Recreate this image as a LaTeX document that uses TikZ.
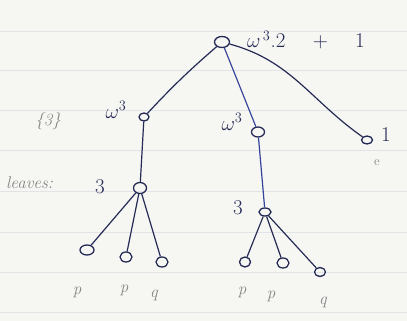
\documentclass[tikz,border=0pt]{standalone}
\usepackage{xcolor}
\usepackage{tikz}
\usetikzlibrary{shapes.geometric}

\definecolor{paper}{HTML}{F6F6F3}
\definecolor{rule}{HTML}{E2E3E6}
\definecolor{ink}{HTML}{262B55}
\definecolor{blueink}{HTML}{34439A}
\definecolor{pencil}{HTML}{858585}

\begin{document}
\begin{tikzpicture}[
  x=1pt,y=-1pt,
  vert/.style={draw=ink,line width=1.3pt,ellipse,inner sep=0pt,
    minimum width=10pt,minimum height=8pt},
  edge/.style={draw=ink,line width=1.2pt},
  bedge/.style={draw=blueink,line width=1.2pt},
  lbl/.style={text=ink,font=\fontsize{21}{23}\selectfont,inner sep=0pt},
  faint/.style={text=pencil,font=\fontsize{17}{19}\selectfont\itshape,inner sep=0pt}
]
% paper and its rules
\fill[paper] (0,0) rectangle (407,321);
\useasboundingbox (0,0) rectangle (407,321);
\foreach \y in {31,70,110,150,191,232,272,312}
  \draw[rule,line width=0.8pt] (0,\y) -- (407,\y);

% vertices
\node[vert,minimum width=15pt,minimum height=11pt] (root) at (222,42) {};
\node[vert] (left) at (144,117) {};
\node[vert,minimum width=13pt,minimum height=10pt] (mid) at (258,132) {};
\node[vert,minimum width=11pt] (right) at (367,140) {};
\node[vert,minimum width=13pt,minimum height=11pt] (lsub) at (140,188) {};
\node[vert,minimum width=12pt,minimum height=8pt] (msub) at (265,212) {};
\node[vert,minimum width=14pt,minimum height=10pt] (l1) at (87,250) {};
\node[vert,minimum width=12pt,minimum height=10pt] (l2) at (126,257) {};
\node[vert,minimum width=12pt,minimum height=10pt] (l3) at (162,262) {};
\node[vert,minimum width=11pt,minimum height=10pt] (m1) at (245,262) {};
\node[vert,minimum width=12pt,minimum height=10pt] (m2) at (283,263) {};
\node[vert,minimum width=11pt,minimum height=9pt] (m3) at (320,272) {};

% edges
\draw[edge] (root) to[bend right=3] (left);
\draw[bedge] (root) -- (mid);
\draw[edge] (root) to[out=-15,in=145] (right);
\draw[edge] (left) -- (lsub);
\draw[bedge] (mid) -- (msub);
\foreach \c in {l1,l2,l3}
  \draw[edge] (lsub) -- (\c);
\foreach \c in {m1,m2,m3}
  \draw[edge] (msub) -- (\c);

% labels
\node[lbl,anchor=west] (rootlbl) at (247,40) {$\omega^{\,3}$.2 \quad + \quad 1};
\node[lbl] (leftlbl) at (116,110) {$\omega^3$};
\node[lbl] (midlbl) at (232,122) {$\omega^3$};
\node[lbl] (rightlbl) at (386,135) {1};
\node[lbl] (lsublbl) at (100,187) {3};
\node[lbl] (msublbl) at (238,208) {3};
\node[faint] (brk) at (48,121) {\{3\}};
\node[faint,anchor=west] (cnt) at (6,183) {leaves:};
\node[faint,font=\fontsize{13}{15}\selectfont] (rdot) at (377,163) {e};
\node[faint] (p1) at (77,292) {p};
\node[faint] (p2) at (124,290) {p};
\node[faint] (p3) at (154,295) {q};
\node[faint] (p4) at (242,292) {p};
\node[faint] (p5) at (271,296) {p};
\node[faint] (p6) at (323,302) {q};
\end{tikzpicture}
\end{document}
